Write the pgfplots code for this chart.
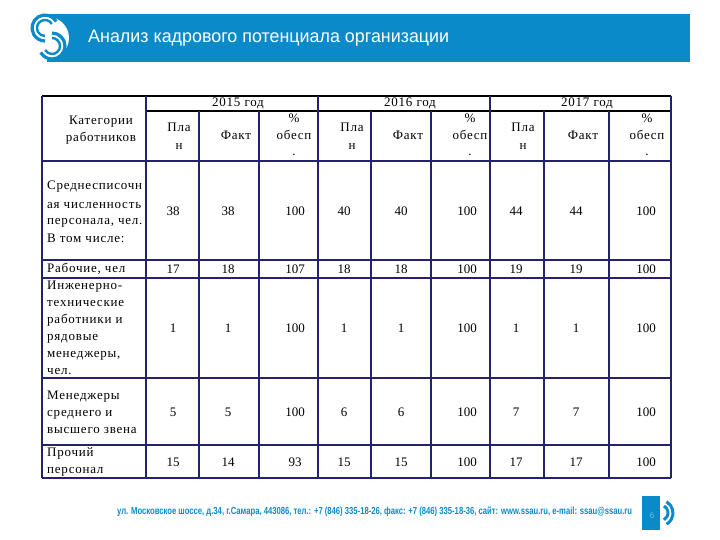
\documentclass[border=0pt]{standalone}
\usepackage{fontspec}
\setmainfont{Liberation Serif}
\newfontfamily\sansf{Liberation Sans}
\newfontfamily\tabf[LetterSpace=6]{Liberation Serif}
\newfontfamily\numf{Liberation Serif}
\usepackage{pgfplots}
\usepackage{pgfplotstable}
\pgfplotsset{compat=1.18}
\definecolor{banner}{HTML}{0B8AC9}
\definecolor{gridc}{HTML}{22226E}

\pgfplotstableread{
x y v
173 211 38
228 211 38
295 211 100
344 211 40
401 211 40
467 211 100
516 211 44
576 211 44
646 211 100
173 269 17
228 269 18
295 269 107
344 269 18
401 269 18
467 269 100
516 269 19
576 269 19
646 269 100
173 328 1
228 328 1
295 328 100
344 328 1
401 328 1
467 328 100
516 328 1
576 328 1
646 328 100
173 412 5
228 412 5
295 412 100
344 412 6
401 412 6
467 412 100
516 412 7
576 412 7
646 412 100
173 462 15
228 462 14
295 462 93
344 462 15
401 462 15
467 462 100
516 462 17
576 462 17
646 462 100
}\cells

\tikzset{
  tl/.style={anchor=west, inner sep=0pt, text height=9pt, text depth=3pt, font=\tabf\fontsize{13}{15}\selectfont},
  tc/.style={anchor=center, inner sep=0pt, text height=9pt, text depth=3pt, font=\tabf\fontsize{13}{15}\selectfont}
}

\begin{document}
\begin{tikzpicture}
\begin{axis}[scale only axis, width=720pt, height=540pt,
  xmin=0, xmax=720, ymin=0, ymax=540, y dir=reverse,
  hide axis, clip=false]
% banner
\fill[banner] (axis cs:47,14) rectangle (axis cs:690,62);
\fill[white] (axis cs:48,38) circle[radius=21pt];
\draw[banner, line width=3.2pt] (axis cs:56.3,21.5) arc[start angle=30, end angle=270, radius=13pt];
\draw[banner, line width=2.4pt] (axis cs:51.9,24) arc[start angle=30, end angle=270, radius=8pt];
\draw[banner, line width=3.2pt] (axis cs:52,33) arc[start angle=90, end angle=-150, radius=13pt];
\draw[banner, line width=2.4pt] (axis cs:52,38) arc[start angle=90, end angle=-150, radius=8pt];
\node[anchor=west, text=white, inner sep=0pt] at (axis cs:88,38)
  {\resizebox{361pt}{12.5pt}{\sansf Анализ кадрового потенциала организации}};
% table grid
\draw[black, line width=1.1pt] (axis cs:42,96) -- (axis cs:671,96);
\draw[black, line width=1.1pt] (axis cs:146,111) -- (axis cs:671,111);
\draw[gridc, line width=1.1pt] (axis cs:42,161) -- (axis cs:671,161);
\foreach \yy in {260,278,378,445,478}
  {\edef\tmp{\noexpand\draw[gridc, line width=1.1pt] (axis cs:42,\yy) -- (axis cs:671,\yy);}\tmp}
\foreach \xx in {42,146,318,490,671}
  {\edef\tmp{\noexpand\draw[gridc, line width=1.1pt] (axis cs:\xx,96) -- (axis cs:\xx,478);}\tmp}
\foreach \xx in {199,259,371,431,544,609}
  {\edef\tmp{\noexpand\draw[gridc, line width=1.1pt] (axis cs:\xx,111) -- (axis cs:\xx,478);}\tmp}
% header text
\node[tc] at (axis cs:101,122) {Категории};
\node[tc] at (axis cs:101,139) {работников};
\node[tc] at (axis cs:238,104) {2015 год};
\node[tc] at (axis cs:410,104) {2016 год};
\node[tc] at (axis cs:587,104) {2017 год};
\foreach \px/\fx/\ox in {179/236/294, 352/408/470, 523/583/647}{
  \edef\tmp{%
  \noexpand\node[tc] at (axis cs:\px,129) {Пла};
  \noexpand\node[tc] at (axis cs:\px,147) {н};
  \noexpand\node[tc] at (axis cs:\fx,137) {Факт};
  \noexpand\node[tc] at (axis cs:\ox,120) {\noexpand\%};
  \noexpand\node[tc] at (axis cs:\ox,137) {обесп};
  \noexpand\node[tc] at (axis cs:\ox,153) {.};
  }\tmp}
% row labels
\node[tl] at (axis cs:47,187) {Среднесписочн};
\node[tl] at (axis cs:47,205) {ая численность};
\node[tl] at (axis cs:47,222) {персонала, чел.};
\node[tl] at (axis cs:47,240) {В том числе:};
\node[tl] at (axis cs:47,269) {Рабочие, чел};
\node[tl] at (axis cs:47,286) {Инженерно-};
\node[tl] at (axis cs:47,303) {технические};
\node[tl] at (axis cs:47,320) {работники и};
\node[tl] at (axis cs:47,337) {рядовые};
\node[tl] at (axis cs:47,354) {менеджеры,};
\node[tl] at (axis cs:47,371) {чел.};
\node[tl] at (axis cs:47,396) {Менеджеры};
\node[tl] at (axis cs:47,413) {среднего и};
\node[tl] at (axis cs:47,430) {высшего звена};
\node[tl] at (axis cs:47,453) {Прочий};
\node[tl] at (axis cs:47,470) {персонал};
% values
\addplot[draw=none, mark=none, nodes near coords, point meta=explicit symbolic,
  every node near coord/.style={anchor=center, inner sep=0pt, font=\numf\fontsize{13}{15}\selectfont}]
  table[x=x, y=y, meta=v] {\cells};
% footer
\node[anchor=west, text=banner, inner sep=0pt] at (axis cs:117,512)
  {\resizebox{515pt}{7.6pt}{\sansf\bfseries ул. Московское шоссе, д.34, г.Самара, 443086, тел.: +7 (846) 335-18-26, факс: +7 (846) 335-18-36, сайт: www.ssau.ru, e-mail: ssau@ssau.ru}};
\fill[banner] (axis cs:642,496) rectangle (axis cs:660,530);
\node[text=banner!55!white, font=\sansf\fontsize{8}{9}\selectfont] at (axis cs:652,516) {6};
\draw[banner, line width=3pt] (axis cs:664,506) arc[start angle=60, end angle=-60, radius=8pt];
\draw[banner, line width=3pt] (axis cs:666.5,501.7) arc[start angle=60, end angle=-60, radius=13pt];
\end{axis}
\pgfresetboundingbox
\path (0,0) rectangle (720pt,540pt);
\end{tikzpicture}
\end{document}
